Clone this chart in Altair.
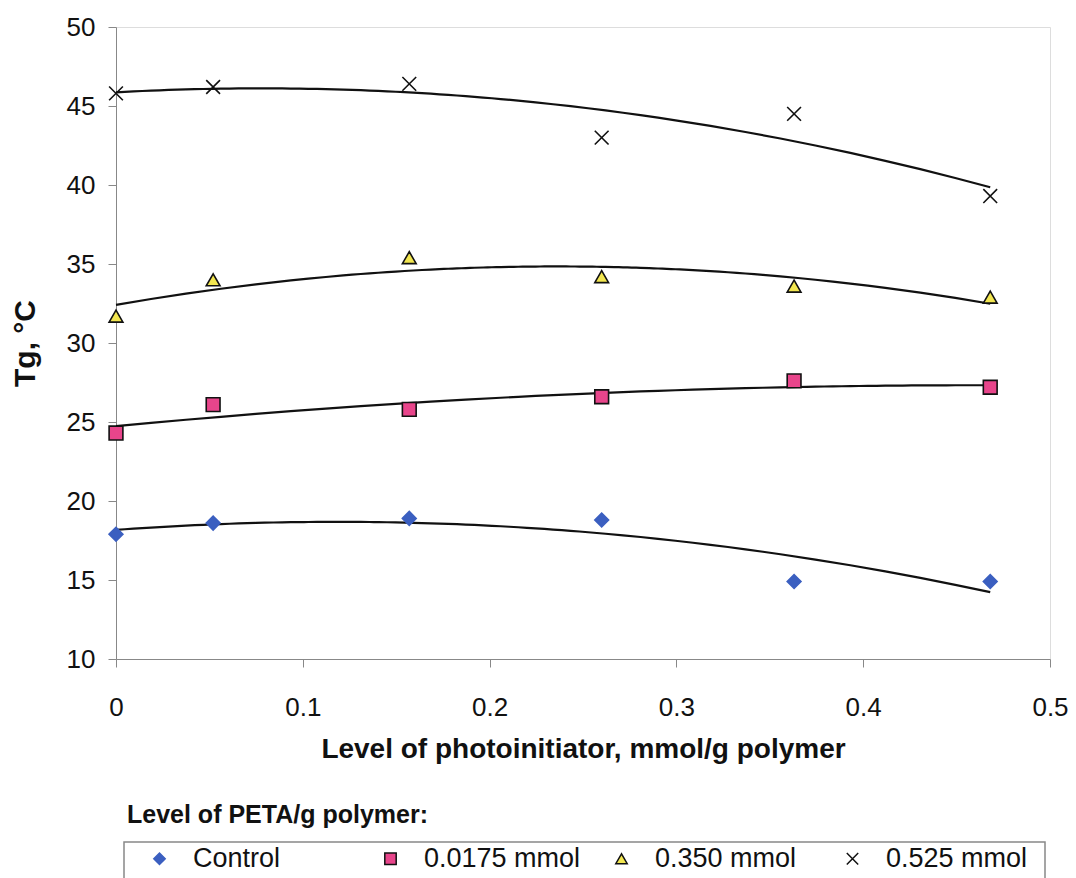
import altair as alt
import pandas as pd

# ---- data ----
x_vals = [0.0, 0.052, 0.157, 0.26, 0.363, 0.468]
series_names = ["Control", "0.0175 mmol", "0.350 mmol", "0.525 mmol"]
control = [17.9, 18.6, 18.9, 18.8, 14.9, 14.9]
m0175 = [24.3, 26.1, 25.8, 26.6, 27.6, 27.2]
m0350 = [31.7, 34.0, 35.4, 34.2, 33.6, 32.9]
m0525 = [45.8, 46.2, 46.4, 43.0, 44.5, 39.3]
x_ticks = [0, 0.1, 0.2, 0.3, 0.4, 0.5]
y_ticks = [10, 15, 20, 25, 30, 35, 40, 45, 50]

rows = []
for name, vals in zip(series_names, [control, m0175, m0350, m0525]):
    for xv, yv in zip(x_vals, vals):
        rows.append({"x": xv, "y": yv, "series": name})
df = pd.DataFrame(rows)

FONT = "Liberation Sans"
W, H = 934, 632

fill_range = ["#3b5fc0", "#e8458b", "#f2e650", "transparent"]
stroke_range = ["#3b5fc0", "#111111", "#111111", "#111111"]
shape_range = ["diamond", "square", "triangle-up", "M-1,-1L1,1M1,-1L-1,1"]

leg = alt.Legend(
    title=None, orient="none", legendX=30, legendY=818,
    direction="horizontal", columns=4, gridAlign="all",
    columnPadding=27, symbolSize=130, symbolStrokeWidth=1.5,
    labelFont=FONT, labelFontSize=27, labelColor="#111111",
    labelOffset=20, padding=0, labelLimit=400,
)

xscale = alt.Scale(domain=[0, 0.5], nice=False)
yscale = alt.Scale(domain=[10, 50], nice=False)

xaxis = alt.Axis(
    title="Level of photoinitiator, mmol/g polymer", values=x_ticks, format="~g",
    grid=False, domainColor="#888888", tickColor="#888888", tickSize=8,
    labelFont=FONT, labelFontSize=26, labelColor="#111111", labelPadding=27,
    labelFlush=False,
    titleFont=FONT, titleFontSize=28, titleFontWeight="bold", titleColor="#111111",
    titleY=90, titleBaseline="middle",
)
yaxis = alt.Axis(
    title="Tg, °C", values=y_ticks, grid=False,
    domainColor="#888888", tickColor="#888888", tickSize=8,
    labelFont=FONT, labelFontSize=26, labelColor="#111111", labelPadding=13,
    labelFlush=False,
    titleFont=FONT, titleFontSize=30, titleFontWeight="bold", titleColor="#111111",
    titleX=-91, titleY=316, titleAngle=270, titleAlign="center", titleBaseline="middle",
)

base = alt.Chart(df)

lines = base.transform_regression(
    "x", "y", method="poly", order=2, groupby=["series"], extent=[0, 0.468]
).mark_line(color="#111111", strokeWidth=2.2).encode(
    x=alt.X("x:Q", scale=xscale, axis=xaxis),
    y=alt.Y("y:Q", scale=yscale, axis=yaxis),
    detail="series:N",
)

points = base.mark_point(opacity=1, size=190, strokeWidth=1.6).encode(
    x=alt.X("x:Q", scale=xscale),
    y=alt.Y("y:Q", scale=yscale),
    shape=alt.Shape("series:N", scale=alt.Scale(domain=series_names, range=shape_range), legend=leg),
    fill=alt.Fill("series:N", scale=alt.Scale(domain=series_names, range=fill_range), legend=leg),
    stroke=alt.Stroke("series:N", scale=alt.Scale(domain=series_names, range=stroke_range), legend=leg),
)

box_df = pd.DataFrame({"k": [1]})
box = alt.Chart(box_df).mark_rect(fill="transparent", stroke="#888888", strokeWidth=1.5).encode(
    x=alt.value(8), x2=alt.value(929), y=alt.value(815), y2=alt.value(870)
)

title_df = pd.DataFrame({"t": ["Level of PETA/g polymer:"]})
leg_title = alt.Chart(title_df).mark_text(
    align="left", baseline="middle", font=FONT, fontSize=25, fontWeight="bold", color="#111111"
).encode(x=alt.value(11), y=alt.value(788), text="t:N")

chart = alt.layer(lines, points, box, leg_title).resolve_scale(
    shape="independent", fill="independent", stroke="independent"
).properties(
    width=W, height=H,
    autosize=alt.AutoSizeParams(type="none"),
    padding={"left": 108, "top": 19, "right": 18, "bottom": 219},
).configure_view(stroke=None).configure(background="white")

chart.save("out.html", embed_options={"renderer": "svg", "actions": False})
